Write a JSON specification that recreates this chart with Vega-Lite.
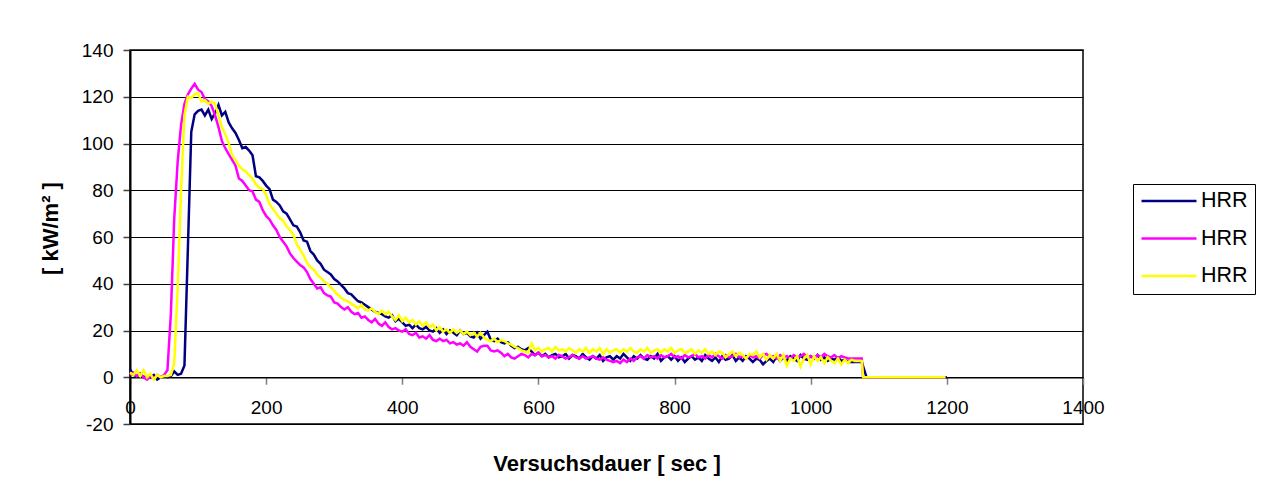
{
"$schema":"https://vega.github.io/schema/vega-lite/v6.json",
"width":953,"height":374,
"autosize":{"type":"none"},
"padding":{"left":130,"top":50,"right":185,"bottom":73},
"background":"white",
"config":{"view":{"stroke":"black","strokeWidth":1.5},"font":"Liberation Sans"},
"datasets":{
"d1":[{"t":0,"v":3.5},{"t":5,"v":1},{"t":10,"v":0.5},{"t":15,"v":1.5},{"t":20,"v":0},{"t":25,"v":0.5},{"t":30,"v":0},{"t":35,"v":1},{"t":40,"v":-1},{"t":45,"v":0},{"t":50,"v":0.5},{"t":55,"v":0},{"t":60,"v":0.5},{"t":65,"v":2.5},{"t":70,"v":1},{"t":75,"v":1.5},{"t":80,"v":5},{"t":85,"v":55},{"t":90,"v":105},{"t":95,"v":112.5},{"t":100,"v":114},{"t":105,"v":114.5},{"t":110,"v":112},{"t":115,"v":114.5},{"t":120,"v":110.5},{"t":125,"v":113},{"t":130,"v":116.5},{"t":135,"v":112},{"t":140,"v":113.5},{"t":145,"v":109},{"t":150,"v":106.5},{"t":155,"v":104.5},{"t":160,"v":101.5},{"t":165,"v":98},{"t":170,"v":98.5},{"t":175,"v":97},{"t":180,"v":95},{"t":185,"v":86},{"t":190,"v":85.5},{"t":195,"v":84},{"t":200,"v":82},{"t":205,"v":80.5},{"t":210,"v":76},{"t":215,"v":75},{"t":220,"v":73.5},{"t":225,"v":71},{"t":230,"v":70},{"t":235,"v":67.5},{"t":240,"v":65},{"t":245,"v":64.5},{"t":250,"v":62},{"t":255,"v":58.5},{"t":260,"v":58},{"t":265,"v":54},{"t":270,"v":52.5},{"t":275,"v":50},{"t":280,"v":48.5},{"t":285,"v":46},{"t":290,"v":45},{"t":295,"v":44},{"t":300,"v":42},{"t":305,"v":41},{"t":310,"v":39.5},{"t":315,"v":38},{"t":320,"v":36},{"t":325,"v":35.5},{"t":330,"v":34},{"t":335,"v":32.5},{"t":340,"v":32},{"t":345,"v":31},{"t":350,"v":30},{"t":355,"v":29},{"t":360,"v":28},{"t":365,"v":27.5},{"t":370,"v":27},{"t":375,"v":26},{"t":380,"v":25.5},{"t":385,"v":26.5},{"t":390,"v":24},{"t":395,"v":25},{"t":400,"v":23.5},{"t":405,"v":22},{"t":410,"v":22.5},{"t":415,"v":21},{"t":420,"v":22.5},{"t":425,"v":21},{"t":430,"v":20.5},{"t":435,"v":21.5},{"t":440,"v":20},{"t":445,"v":19.5},{"t":450,"v":21},{"t":455,"v":19},{"t":460,"v":20.5},{"t":465,"v":18.5},{"t":470,"v":20},{"t":475,"v":19},{"t":480,"v":18},{"t":485,"v":20},{"t":490,"v":18.5},{"t":495,"v":19},{"t":500,"v":17.5},{"t":505,"v":17},{"t":510,"v":19},{"t":515,"v":16.5},{"t":520,"v":18},{"t":525,"v":19.5},{"t":530,"v":16},{"t":535,"v":15.5},{"t":540,"v":16.5},{"t":545,"v":15},{"t":550,"v":14.5},{"t":555,"v":15},{"t":560,"v":13.5},{"t":565,"v":12.5},{"t":570,"v":13},{"t":575,"v":12},{"t":580,"v":11.5},{"t":585,"v":12.5},{"t":590,"v":11},{"t":595,"v":9.5},{"t":600,"v":10.5},{"t":605,"v":9},{"t":610,"v":10},{"t":615,"v":8.5},{"t":620,"v":9.5},{"t":625,"v":10},{"t":630,"v":8.5},{"t":635,"v":9},{"t":640,"v":10},{"t":645,"v":8},{"t":650,"v":9.5},{"t":655,"v":9},{"t":660,"v":8},{"t":665,"v":10},{"t":670,"v":8.5},{"t":675,"v":7.5},{"t":680,"v":9},{"t":685,"v":8},{"t":690,"v":9.5},{"t":695,"v":7},{"t":700,"v":8.5},{"t":705,"v":9},{"t":710,"v":7.5},{"t":715,"v":9},{"t":720,"v":8},{"t":725,"v":10},{"t":730,"v":8.5},{"t":735,"v":7},{"t":740,"v":9},{"t":745,"v":8},{"t":750,"v":9.5},{"t":755,"v":8},{"t":760,"v":7.5},{"t":765,"v":9},{"t":770,"v":8},{"t":775,"v":10},{"t":780,"v":7},{"t":785,"v":8.5},{"t":790,"v":9},{"t":795,"v":7.5},{"t":800,"v":9},{"t":805,"v":7},{"t":810,"v":8.5},{"t":815,"v":6.5},{"t":820,"v":8},{"t":825,"v":9},{"t":830,"v":7.5},{"t":835,"v":8.5},{"t":840,"v":7},{"t":845,"v":9.5},{"t":850,"v":8},{"t":855,"v":7},{"t":860,"v":8.5},{"t":865,"v":6.5},{"t":870,"v":9},{"t":875,"v":7.5},{"t":880,"v":8},{"t":885,"v":9.5},{"t":890,"v":7},{"t":895,"v":8.5},{"t":900,"v":7},{"t":905,"v":9},{"t":910,"v":8},{"t":915,"v":6.5},{"t":920,"v":8},{"t":925,"v":7.5},{"t":930,"v":5.5},{"t":935,"v":7},{"t":940,"v":8},{"t":945,"v":6.5},{"t":950,"v":9},{"t":955,"v":7},{"t":960,"v":8.5},{"t":965,"v":7},{"t":970,"v":9},{"t":975,"v":8},{"t":980,"v":7},{"t":985,"v":9.5},{"t":990,"v":8},{"t":995,"v":7.5},{"t":1000,"v":9},{"t":1005,"v":8},{"t":1010,"v":9.5},{"t":1015,"v":7.5},{"t":1020,"v":8.5},{"t":1025,"v":7},{"t":1030,"v":8},{"t":1035,"v":7.5},{"t":1040,"v":8.5},{"t":1045,"v":7},{"t":1050,"v":7.5},{"t":1055,"v":6.5},{"t":1060,"v":6.5},{"t":1065,"v":6.5},{"t":1070,"v":6.5},{"t":1075,"v":6.5},{"t":1082,"v":0},{"t":1200,"v":0}],
"d2":[{"t":0,"v":1},{"t":5,"v":2},{"t":10,"v":0.5},{"t":15,"v":1.5},{"t":20,"v":0},{"t":25,"v":-1},{"t":30,"v":0.5},{"t":35,"v":-0.5},{"t":40,"v":1},{"t":45,"v":0},{"t":50,"v":1},{"t":55,"v":3},{"t":60,"v":27},{"t":65,"v":68},{"t":70,"v":92},{"t":75,"v":108},{"t":80,"v":117},{"t":85,"v":121},{"t":90,"v":123.5},{"t":95,"v":125.5},{"t":100,"v":123},{"t":105,"v":122},{"t":110,"v":119},{"t":115,"v":118},{"t":120,"v":116},{"t":125,"v":112},{"t":130,"v":107},{"t":135,"v":101},{"t":140,"v":98},{"t":145,"v":95.5},{"t":150,"v":93},{"t":155,"v":90.5},{"t":160,"v":85},{"t":165,"v":84},{"t":170,"v":82},{"t":175,"v":80},{"t":180,"v":79.5},{"t":185,"v":76},{"t":190,"v":75},{"t":195,"v":71.5},{"t":200,"v":69},{"t":205,"v":67.5},{"t":210,"v":65},{"t":215,"v":63},{"t":220,"v":60},{"t":225,"v":58},{"t":230,"v":56},{"t":235,"v":53},{"t":240,"v":51},{"t":245,"v":49.5},{"t":250,"v":48},{"t":255,"v":47},{"t":260,"v":45},{"t":265,"v":42},{"t":270,"v":40},{"t":275,"v":38},{"t":280,"v":38.5},{"t":285,"v":36},{"t":290,"v":35},{"t":295,"v":34.5},{"t":300,"v":32},{"t":305,"v":31.5},{"t":310,"v":30},{"t":315,"v":29},{"t":320,"v":30},{"t":325,"v":28},{"t":330,"v":27},{"t":335,"v":27.5},{"t":340,"v":25.5},{"t":345,"v":26},{"t":350,"v":24.5},{"t":355,"v":23.5},{"t":360,"v":25},{"t":365,"v":23},{"t":370,"v":22},{"t":375,"v":23.5},{"t":380,"v":21.5},{"t":385,"v":20.5},{"t":390,"v":21},{"t":395,"v":20},{"t":400,"v":19.5},{"t":405,"v":20.5},{"t":410,"v":18.5},{"t":415,"v":18},{"t":420,"v":19},{"t":425,"v":17},{"t":430,"v":17.5},{"t":435,"v":16.5},{"t":440,"v":18},{"t":445,"v":16},{"t":450,"v":15.5},{"t":455,"v":16.5},{"t":460,"v":15.5},{"t":465,"v":16},{"t":470,"v":14.5},{"t":475,"v":15},{"t":480,"v":14},{"t":485,"v":14.5},{"t":490,"v":13.5},{"t":495,"v":15},{"t":500,"v":13},{"t":505,"v":12},{"t":510,"v":11},{"t":515,"v":13},{"t":520,"v":13.5},{"t":525,"v":13.5},{"t":530,"v":11.5},{"t":535,"v":11},{"t":540,"v":11.5},{"t":545,"v":10.5},{"t":550,"v":9},{"t":555,"v":10},{"t":560,"v":8.5},{"t":565,"v":8},{"t":570,"v":9},{"t":575,"v":10},{"t":580,"v":9.5},{"t":585,"v":8.5},{"t":590,"v":10},{"t":595,"v":9.5},{"t":600,"v":10.5},{"t":605,"v":9},{"t":610,"v":9.5},{"t":615,"v":8.5},{"t":620,"v":9},{"t":625,"v":8},{"t":630,"v":9.5},{"t":635,"v":9},{"t":640,"v":8},{"t":645,"v":8.5},{"t":650,"v":9.5},{"t":655,"v":8.5},{"t":660,"v":8},{"t":665,"v":9},{"t":670,"v":8},{"t":675,"v":8.5},{"t":680,"v":9},{"t":685,"v":8},{"t":690,"v":7.5},{"t":695,"v":8.5},{"t":700,"v":7.5},{"t":705,"v":7},{"t":710,"v":6.5},{"t":715,"v":7},{"t":720,"v":6},{"t":725,"v":7.5},{"t":730,"v":6.5},{"t":735,"v":8},{"t":740,"v":7},{"t":745,"v":8.5},{"t":750,"v":9},{"t":755,"v":8},{"t":760,"v":9.5},{"t":765,"v":8.5},{"t":770,"v":9},{"t":775,"v":8},{"t":780,"v":9.5},{"t":785,"v":8.5},{"t":790,"v":9},{"t":795,"v":10},{"t":800,"v":8.5},{"t":805,"v":9},{"t":810,"v":8},{"t":815,"v":9.5},{"t":820,"v":8.5},{"t":825,"v":9},{"t":830,"v":10},{"t":835,"v":8.5},{"t":840,"v":9},{"t":845,"v":8},{"t":850,"v":9.5},{"t":855,"v":8.5},{"t":860,"v":10},{"t":865,"v":9},{"t":870,"v":8},{"t":875,"v":9.5},{"t":880,"v":8.5},{"t":885,"v":9},{"t":890,"v":10},{"t":895,"v":8.5},{"t":900,"v":9},{"t":905,"v":8},{"t":910,"v":9.5},{"t":915,"v":8.5},{"t":920,"v":9},{"t":925,"v":8},{"t":930,"v":9.5},{"t":935,"v":10},{"t":940,"v":8.5},{"t":945,"v":9},{"t":950,"v":8},{"t":955,"v":9.5},{"t":960,"v":8.5},{"t":965,"v":9},{"t":970,"v":8},{"t":975,"v":9.5},{"t":980,"v":8.5},{"t":985,"v":9},{"t":990,"v":10},{"t":995,"v":8.5},{"t":1000,"v":9},{"t":1005,"v":8},{"t":1010,"v":9.5},{"t":1015,"v":8.5},{"t":1020,"v":10},{"t":1025,"v":9},{"t":1030,"v":8.5},{"t":1035,"v":9.5},{"t":1040,"v":8},{"t":1045,"v":9},{"t":1050,"v":8.5},{"t":1055,"v":8},{"t":1060,"v":8},{"t":1065,"v":8},{"t":1070,"v":8},{"t":1075,"v":8},{"t":1077,"v":0},{"t":1198,"v":0}],
"d3":[{"t":0,"v":2},{"t":5,"v":1},{"t":10,"v":3},{"t":15,"v":0.5},{"t":20,"v":3},{"t":25,"v":0},{"t":30,"v":1.5},{"t":35,"v":-1},{"t":40,"v":1},{"t":45,"v":0},{"t":50,"v":0.5},{"t":55,"v":0.5},{"t":60,"v":1},{"t":65,"v":6},{"t":70,"v":38},{"t":75,"v":80},{"t":80,"v":112},{"t":85,"v":120},{"t":90,"v":119.5},{"t":95,"v":121},{"t":100,"v":121.5},{"t":105,"v":118},{"t":110,"v":118.5},{"t":115,"v":117},{"t":120,"v":118},{"t":125,"v":117},{"t":130,"v":112},{"t":135,"v":107},{"t":140,"v":104},{"t":145,"v":100},{"t":150,"v":95},{"t":155,"v":93},{"t":160,"v":90.5},{"t":165,"v":89},{"t":170,"v":88},{"t":175,"v":86.5},{"t":180,"v":85},{"t":185,"v":82.5},{"t":190,"v":81},{"t":195,"v":80.5},{"t":200,"v":78},{"t":205,"v":74},{"t":210,"v":72},{"t":215,"v":70},{"t":220,"v":68},{"t":225,"v":67},{"t":230,"v":64.5},{"t":235,"v":63},{"t":240,"v":61},{"t":245,"v":57},{"t":250,"v":54.5},{"t":255,"v":52},{"t":260,"v":49},{"t":265,"v":47},{"t":270,"v":46},{"t":275,"v":44},{"t":280,"v":42.5},{"t":285,"v":41},{"t":290,"v":40},{"t":295,"v":38.5},{"t":300,"v":37},{"t":305,"v":35.5},{"t":310,"v":34},{"t":315,"v":33},{"t":320,"v":32.5},{"t":325,"v":31.5},{"t":330,"v":30.5},{"t":335,"v":29.5},{"t":340,"v":31},{"t":345,"v":29},{"t":350,"v":28.5},{"t":355,"v":29.5},{"t":360,"v":28},{"t":365,"v":27},{"t":370,"v":28.5},{"t":375,"v":27},{"t":380,"v":28},{"t":385,"v":26},{"t":390,"v":24.5},{"t":395,"v":26.5},{"t":400,"v":24},{"t":405,"v":25.5},{"t":410,"v":23.5},{"t":415,"v":24.5},{"t":420,"v":22.5},{"t":425,"v":24},{"t":430,"v":22},{"t":435,"v":23.5},{"t":440,"v":21.5},{"t":445,"v":22.5},{"t":450,"v":20},{"t":455,"v":21.5},{"t":460,"v":19.5},{"t":465,"v":20.5},{"t":470,"v":19},{"t":475,"v":20.5},{"t":480,"v":19},{"t":485,"v":20},{"t":490,"v":18.5},{"t":495,"v":19.5},{"t":500,"v":18},{"t":505,"v":19},{"t":510,"v":17.5},{"t":515,"v":19},{"t":520,"v":17},{"t":525,"v":16},{"t":530,"v":15.5},{"t":535,"v":16.5},{"t":540,"v":15},{"t":545,"v":16},{"t":550,"v":15.5},{"t":555,"v":14.5},{"t":560,"v":14},{"t":565,"v":13},{"t":570,"v":12.5},{"t":575,"v":11.5},{"t":580,"v":11},{"t":585,"v":10.5},{"t":590,"v":14.5},{"t":595,"v":11.5},{"t":600,"v":12.5},{"t":605,"v":11},{"t":610,"v":12},{"t":615,"v":12.5},{"t":620,"v":11},{"t":625,"v":13},{"t":630,"v":11.5},{"t":635,"v":12},{"t":640,"v":11},{"t":645,"v":12.5},{"t":650,"v":11.5},{"t":655,"v":10.5},{"t":660,"v":12},{"t":665,"v":11},{"t":670,"v":12.5},{"t":675,"v":10.5},{"t":680,"v":12},{"t":685,"v":11},{"t":690,"v":12.5},{"t":695,"v":10},{"t":700,"v":12},{"t":705,"v":10.5},{"t":710,"v":11.5},{"t":715,"v":12},{"t":720,"v":10.5},{"t":725,"v":12},{"t":730,"v":11},{"t":735,"v":12.5},{"t":740,"v":11},{"t":745,"v":10.5},{"t":750,"v":12},{"t":755,"v":11},{"t":760,"v":12.5},{"t":765,"v":10.5},{"t":770,"v":11.5},{"t":775,"v":12},{"t":780,"v":10.5},{"t":785,"v":12},{"t":790,"v":11},{"t":795,"v":12.5},{"t":800,"v":10.5},{"t":805,"v":11.5},{"t":810,"v":12},{"t":815,"v":10.5},{"t":820,"v":11},{"t":825,"v":12},{"t":830,"v":10},{"t":835,"v":11.5},{"t":840,"v":10.5},{"t":845,"v":12},{"t":850,"v":10},{"t":855,"v":11},{"t":860,"v":9.5},{"t":865,"v":11},{"t":870,"v":10.5},{"t":875,"v":8.5},{"t":880,"v":10},{"t":885,"v":11},{"t":890,"v":9},{"t":895,"v":10.5},{"t":900,"v":9.5},{"t":905,"v":8},{"t":910,"v":10},{"t":915,"v":9.5},{"t":920,"v":11},{"t":925,"v":8.5},{"t":930,"v":10},{"t":935,"v":7.5},{"t":940,"v":9.5},{"t":945,"v":8},{"t":950,"v":10},{"t":955,"v":7},{"t":960,"v":9.5},{"t":965,"v":5},{"t":970,"v":8},{"t":975,"v":7},{"t":980,"v":9},{"t":985,"v":4.5},{"t":990,"v":8},{"t":995,"v":9.5},{"t":1000,"v":5.5},{"t":1005,"v":9},{"t":1010,"v":7},{"t":1015,"v":8.5},{"t":1020,"v":6},{"t":1025,"v":8.5},{"t":1030,"v":7},{"t":1035,"v":6},{"t":1040,"v":8},{"t":1045,"v":5.5},{"t":1050,"v":7.5},{"t":1055,"v":6},{"t":1060,"v":7.5},{"t":1065,"v":7},{"t":1070,"v":7},{"t":1075,"v":7},{"t":1077,"v":0},{"t":1198,"v":0}]
},
"encoding":{
"x":{"field":"t","type":"quantitative","scale":{"domain":[0,1400],"nice":false,"zero":false},
"axis":{"values":[0,200,400,600,800,1000,1200,1400],"labelExpr":"'' + datum.value","offset":-46.75,"grid":false,"labelFlush":false,"domainColor":"black","domainWidth":1.5,"tickColor":"#808080","tickSize":7,"tickWidth":1.5,"labelFont":"Liberation Sans","labelFontSize":19,"labelColor":"black","labelPadding":14,"title":"Versuchsdauer [ sec ]","titleFont":"Liberation Sans","titleFontSize":22,"titleFontWeight":"bold","titleColor":"black","titleY":93,"titleBaseline":"alphabetic"}},
"y":{"field":"v","type":"quantitative","scale":{"domain":[-20,140],"nice":false,"zero":false},
"axis":{"values":[-20,0,20,40,60,80,100,120,140],"labelExpr":"'' + datum.value","grid":true,"gridColor":"black","gridWidth":1,"domainColor":"black","domainWidth":2,"tickColor":"#404040","tickSize":7,"tickWidth":1.5,"labelFont":"Liberation Sans","labelFontSize":19,"labelColor":"black","labelPadding":10,"title":"[ kW/m² ]","titleFont":"Liberation Sans","titleFontSize":22,"titleFontWeight":"bold","titleColor":"black","titleX":-80,"titleY":178,"titleAngle":-90,"titleAlign":"center","titleBaseline":"middle"}}
},
"layer":[
{"data":{"name":"d1"},"mark":{"type":"line","strokeWidth":2.5},"encoding":{"color":{"datum":"1"}}},
{"data":{"name":"d2"},"mark":{"type":"line","strokeWidth":2.5},"encoding":{"color":{"datum":"2"}}},
{"data":{"name":"d3"},"mark":{"type":"line","strokeWidth":2.5},"encoding":{"color":{"datum":"3","type":"nominal","scale":{"domain":["1","2","3"],"range":["#000080","#FF00FF","#FFFF00"]},
"legend":{"orient":"none","legendX":1003,"legendY":134,"title":null,"labelExpr":"'HRR'","symbolType":"stroke","symbolSize":3025,"symbolStrokeWidth":2.5,"clipHeight":20,"labelFont":"Liberation Sans","labelFontSize":21.5,"labelColor":"black","labelOffset":3,"rowPadding":15.5,"padding":7,"strokeColor":"black","fillColor":"white"}}}}
]
}
